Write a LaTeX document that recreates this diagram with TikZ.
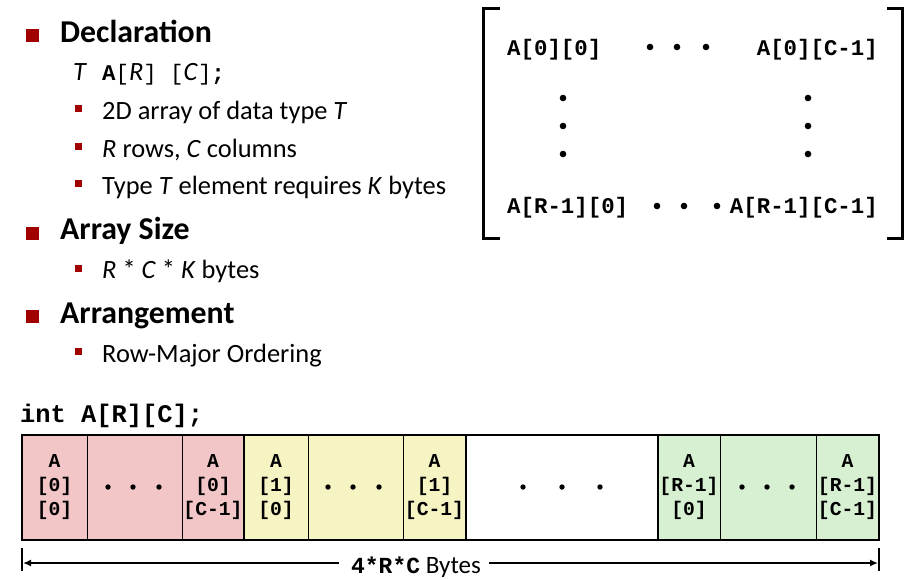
\documentclass[tikz,border=0pt]{standalone}
\usepackage{fontspec}
\setmainfont{Carlito}
\setmonofont{Liberation Mono}
\usetikzlibrary{arrows.meta}
\definecolor{bul}{HTML}{A00000}
\definecolor{cpink}{HTML}{F2C6C6}
\definecolor{cyellow}{HTML}{F6F4C2}
\definecolor{cgreen}{HTML}{D7F0D2}
\newcommand\dmono{\fontsize{22.4}{26}\selectfont\ttfamily}
\tikzset{
  head/.style={anchor=base west, inner sep=0pt, font=\fontsize{31.8}{36}\selectfont\bfseries},
  body/.style={anchor=base west, inner sep=0pt, font=\fontsize{26.4}{31}\selectfont},
  bigbul/.style={fill=bul, minimum size=13pt, inner sep=0pt},
  smallbul/.style={fill=bul, minimum size=7pt, inner sep=0pt},
  mtx/.style={inner sep=0pt, font=\fontsize{22.4}{26}\selectfont\ttfamily\bfseries},
  cellbox/.style={draw, line width=1pt, minimum height=105pt, inner sep=0pt, outer sep=0pt, align=center,
    font=\fontsize{19.7}{24}\selectfont\ttfamily\bfseries},
  group/.style={draw, line width=2pt},
  bigdot/.style={circle, fill, minimum size=6.6pt, inner sep=0pt},
  celldot/.style={circle, fill, minimum size=5.4pt, inner sep=0pt},
}
\begin{document}
\begin{tikzpicture}[x=1pt,y=-1pt]
\useasboundingbox (0,0) rectangle (920,579);
% left bullets
\node[bigbul] (b1) at (32.5,35.5) {};
\node[bigbul] (b2) at (32.5,233) {};
\node[bigbul] (b3) at (32.5,316.5) {};
\node[head] (h1) at (60,42) {Declaration};
\node[head] (h2) at (60,239) {Array Size};
\node[head] (h3) at (60,323) {Arrangement};
\node[body] (decl) at (73,80) {\textit{T}\hspace{15pt}{\dmono\bfseries A}{\dmono[}\textit{R}{\dmono] [}\textit{C}{\dmono]}{\dmono\bfseries ;}};
\node[smallbul] (s1) at (78.5,108.5) {};
\node[smallbul] (s2) at (78.5,146.5) {};
\node[smallbul] (s3) at (78.5,183.5) {};
\node[smallbul] (s4) at (78.5,268) {};
\node[smallbul] (s5) at (78.5,351.5) {};
\node[body] (t1) at (102,119) {2D array of data type \textit{T}};
\node[body] (t2) at (102,157) {\textit{R} rows, \textit{C} columns};
\node[body] (t3) at (102,194) {Type \textit{T} element requires \textit{K} bytes};
\node[body] (t4) at (102,278) {\textit{R} * \textit{C} * \textit{K} bytes};
\node[body] (t5) at (102,362) {Row-Major Ordering};
% matrix
\draw[line width=3pt] (500,8) -- (483,8) -- (483,238) -- (500,238);
\draw[line width=3pt] (887,8) -- (902,8) -- (902,238) -- (887,238);
\node[mtx, anchor=base west] (m00) at (507,55) {A[0][0]};
\node[mtx, anchor=base east] (m0c) at (878,55) {A[0][C-1]};
\node[mtx, anchor=base west] (mr0) at (507,213) {A[R-1][0]};
\node[mtx, anchor=base east] (mrc) at (878,213) {A[R-1][C-1]};
\foreach \x/\n in {650/a,677/b,706/c} \node[bigdot] (td\n) at (\x,47) {};
\foreach \x/\n in {657/a,684/b,717/c} \node[bigdot] (bd\n) at (\x,206) {};
\foreach \y/\n in {98/a,126/b,154/c} {\node[bigdot] (ld\n) at (563,\y) {}; \node[bigdot] (rd\n) at (808,\y) {};}
% code line
\node[anchor=base west, inner sep=0pt, font=\fontsize{25.4}{30}\selectfont\ttfamily\bfseries] (code) at (20,422) {int A[R][C];};
% cells
\node[cellbox, fill=cpink, minimum width=65pt] (c1) at (54.5,487.5) {A\\{[0]}\\{[0]}};
\node[cellbox, fill=cpink, minimum width=95pt] (c2) at (134.5,487.5) {};
\node[cellbox, fill=cpink, minimum width=62pt] (c3) at (213,487.5) {A\\{[0]}\\{[C-1]}};
\node[cellbox, fill=cyellow, minimum width=64pt] (c4) at (276,487.5) {A\\{[1]}\\{[0]}};
\node[cellbox, fill=cyellow, minimum width=95pt] (c5) at (355.5,487.5) {};
\node[cellbox, fill=cyellow, minimum width=63pt] (c6) at (434.5,487.5) {A\\{[1]}\\{[C-1]}};
\node[cellbox, fill=white, minimum width=192pt] (c7) at (562,487.5) {};
\node[cellbox, fill=cgreen, minimum width=62pt] (c8) at (689,487.5) {A\\{[R-1]}\\{[0]}};
\node[cellbox, fill=cgreen, minimum width=96pt] (c9) at (768,487.5) {};
\node[cellbox, fill=cgreen, minimum width=63pt] (c10) at (847.5,487.5) {A\\{[R-1]}\\{[C-1]}};
\draw[group] (c1.north west) rectangle (c3.south east);
\draw[group] (c4.north west) rectangle (c6.south east);
\draw[group] (c7.north west) rectangle (c7.south east);
\draw[group] (c8.north west) rectangle (c10.south east);
\foreach \x/\n in {108/a,133/b,159/c} \node[celldot] (pd\n) at (\x,487) {};
\foreach \x/\n in {328/a,353/b,379/c} \node[celldot] (yd\n) at (\x,487) {};
\foreach \x/\n in {523/a,562/b,600/c} \node[celldot] (wd\n) at (\x,487) {};
\foreach \x/\n in {742/a,767/b,792/c} \node[celldot] (gd\n) at (\x,487) {};
% size arrow
\coordinate (L) at (22,563);
\coordinate (R) at (879,563);
\draw[line width=2pt] (22,548) -- (22,571);
\draw[line width=2pt] (879,548) -- (879,571);
\node[inner sep=0pt, anchor=base, font=\fontsize{25}{28}\selectfont] (lbl) at (416,573) {{\ttfamily\bfseries\fontsize{23}{28}\selectfont 4*R*C} Bytes};
\draw[line width=1.8pt, -{Latex[length=8pt,width=7pt]}] ([xshift=-12pt]lbl.west |- L) -- ([xshift=1pt]L);
\draw[line width=1.8pt, -{Latex[length=8pt,width=7pt]}] ([xshift=8pt]lbl.east |- R) -- ([xshift=-1pt]R);
\end{tikzpicture}
\end{document}
